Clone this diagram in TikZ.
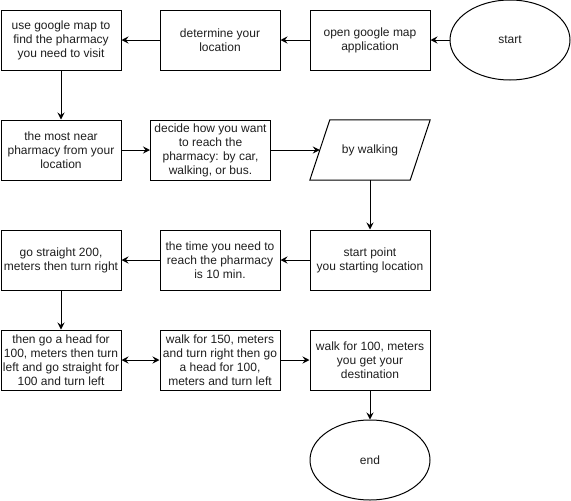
\documentclass[tikz,border=0pt]{standalone}
\usepackage{fontspec}
\setmainfont{Liberation Sans}
\usetikzlibrary{arrows.meta,calc,shapes.geometric}
\definecolor{txt}{RGB}{30,30,30}
\tikzset{
  label font/.style={font=\fontsize{12pt}{14pt}\selectfont, text=txt},
  box/.style={draw, line width=1pt, minimum width=120pt, minimum height=60pt,
    inner sep=0pt, align=center, label font},
  oval/.style={draw, line width=1pt, ellipse, minimum width=120pt, minimum height=80pt,
    inner sep=0pt, label font},
  slantbody/.style={minimum width=100pt, minimum height=60pt, inner sep=0pt, align=center, label font},
  outline/.style={line width=1pt, line join=miter},
  flow/.style={line width=1pt, -{Stealth[length=7pt,width=7pt,inset=2.5pt]}},
  flow2/.style={line width=1pt, {Stealth[length=7pt,width=7pt,inset=2.5pt]}-{Stealth[length=7pt,width=7pt,inset=2.5pt]}}
}
\begin{document}
\begin{tikzpicture}[x=1pt,y=-1pt]
\useasboundingbox (0,0) rectangle (571,501);
% row 1
\node[oval] (start) at (510,40) {start};
\node[box] (open) at (370,40) {open google map\\application};
\node[box] (locate) at (220,40) {determine your\\location};
\node[box] (find) at (61,40) {use google map to\\find the pharmacy\\you need to visit};
% row 2
\node[box] (near) at (61,150) {the most near\\pharmacy from your\\location};
\node[box] (decide) at (210.5,150) {decide how you want\\to reach the\\pharmacy: by car,\\walking, or bus.};
\node[slantbody] (walking) at (370,150) {by walking};
% the input/output parallelogram around "by walking"
\draw[outline] ($(walking.north west)+(10,0)$) -- ($(walking.north east)+(10,0)$)
  -- ($(walking.south east)+(-10,0)$) -- ($(walking.south west)+(-10,0)$) -- cycle;
% row 3
\node[box] (spoint) at (370,260) {start point\\you starting location};
\node[box] (time) at (220,260) {the time you need to\\reach the pharmacy\\is 10 min.};
\node[box] (s200) at (61,260) {go straight 200,\\meters then turn right};
% row 4
\node[box] (ahead) at (61,360) {then go a head for\\100, meters then turn\\left and go straight for\\100 and turn left};
\node[box] (w150) at (220,360) {walk for 150, meters\\and turn right then go\\a head for 100,\\meters and turn left};
\node[box] (w100) at (370,360) {walk for 100, meters\\you get your\\destination};
\node[oval] (end) at (370,460) {end};
% connectors
\draw[flow] (start) -- (open);
\draw[flow] (open) -- (locate);
\draw[flow] (locate) -- (find);
\draw[flow] (find) -- (near);
\draw[flow] (near) -- (decide);
\draw[flow] (decide) -- (walking);
\draw[flow] (walking) -- (spoint);
\draw[flow] (spoint) -- (time);
\draw[flow] (time) -- (s200);
\draw[flow] (s200) -- (ahead);
\draw[flow2] (ahead) -- (w150);
\draw[flow] (w150) -- (w100);
\draw[flow] (w100) -- (end);
\end{tikzpicture}
\end{document}
